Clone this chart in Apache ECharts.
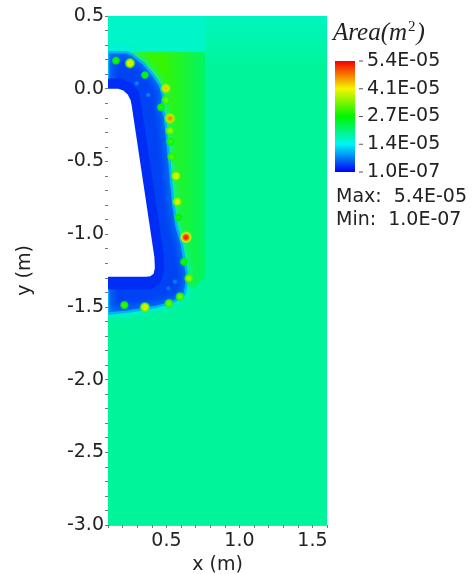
<!DOCTYPE html>
<html>
<head>
<meta charset="utf-8">
<script src="https://cdn.jsdelivr.net/npm/echarts@6/dist/echarts.min.js"></script>
<style>
  html, body { margin: 0; padding: 0; background: #fff; }
  #chart { width: 475px; height: 574px; }
</style>
</head>
<body>
<div id="chart"></div>
<script>
// colour range of the cell area field
const areaMin = 1.0e-7;
const areaMax = 5.4e-5;
const palette = ['#0000f5', '#00f5f5', '#00f500', '#f5f500', '#f50000'];

const xTickLabels = [0.5, 1.0, 1.5];
const yTickLabels = [0.5, 0.0, -0.5, -1.0, -1.5, -2.0, -2.5, -3.0];
const legendLabels = ['1.0E-07', '1.4E-05', '2.7E-05', '4.1E-05', '5.4E-05'];

// mesh zones (x, y in m)
const farField = [[0.1, 0.5], [1.6, 0.5], [1.6, -3.0], [0.1, -3.0]];
const topBand = [[0.1, 0.5], [0.765, 0.5], [0.765, 0.25], [0.1, 0.25]];
const topRight = [[0.765, 0.5], [1.6, 0.5], [1.6, 0.12], [0.765, 0.12]];
const wakeZone = [[0.25, 0.25], [0.765, 0.25], [0.765, -1.3], [0.68, -1.38], [0.58, -1.33], [0.5, -0.6], [0.4, 0.0]];
const coarseBand = [[0.1, 0.25], [0.23, 0.25], [0.27, 0.232], [0.342, 0.175], [0.41, 0.094], [0.456, 0.025],
  [0.479, -0.055], [0.468, -0.124], [0.49, -0.192], [0.502, -0.307], [0.513, -0.42], [0.525, -0.55],
  [0.536, -0.674], [0.547, -0.788], [0.57, -0.949], [0.605, -1.063], [0.627, -1.2], [0.645, -1.29],
  [0.627, -1.407], [0.593, -1.442], [0.525, -1.476], [0.433, -1.499], [0.342, -1.517], [0.228, -1.534],
  [0.1, -1.545]];
const fineBand = [[0.1, 0.07], [0.19, 0.07], [0.26, 0.04], [0.31, -0.02], [0.33, -0.12], [0.48, -1.13],
  [0.485, -1.25], [0.46, -1.33], [0.4, -1.38], [0.1, -1.38]];
const hull = [[0.1, 0.0], [0.17, 0.0], [0.205, -0.012], [0.235, -0.04], [0.255, -0.08], [0.263, -0.12],
  [0.418, -1.16], [0.421, -1.235], [0.412, -1.272], [0.39, -1.29], [0.36, -1.293], [0.1, -1.293]];

// zone areas (m^2); pairs are [start, end] of a gradient
const farFieldArea = 1.86e-5;
const topBandArea = 1.6e-5;
const topRightArea = [1.65e-5, 1.86e-5];
const wakeZoneArea = [3.0e-5, 2.15e-5];
const coarseBandArea = 3.8e-6;
const fineBandArea = 2.6e-6;

// isolated large cells [x, y, area]
const hotSpots = [
  [0.155, 0.193, 3.0e-5], [0.251, 0.175, 4.3e-5], [0.353, 0.094, 2.8e-5], [0.497, 0.003, 4.5e-5],
  [0.497, -0.078, 3.5e-5], [0.463, -0.128, 3.0e-5], [0.525, -0.204, 4.8e-5], [0.525, -0.289, 3.8e-5],
  [0.529, -0.364, 3.2e-5], [0.536, -0.468, 3.4e-5], [0.566, -0.6, 4.3e-5], [0.575, -0.777, 4.2e-5],
  [0.582, -0.885, 3.0e-5], [0.634, -1.022, 5.4e-5], [0.62, -1.19, 3.0e-5], [0.655, -1.304, 3.8e-5],
  [0.593, -1.43, 3.5e-5], [0.518, -1.476, 3.5e-5], [0.353, -1.503, 4.3e-5], [0.212, -1.488, 3.2e-5]
];
// lighter cells inside the refined band
const coolSpots = [
  [0.297, 0.037, 8e-6], [0.376, -0.043, 8e-6], [0.513, -1.373, 7e-6], [0.559, -1.327, 8e-6]
];

function colorOf(v) {
  const t = Math.max(0, Math.min(1, (v - areaMin) / (areaMax - areaMin)));
  return echarts.color.lerp(t, palette);
}

function fmtE(v) {
  const p = v.toExponential(1).toUpperCase().split('E');
  const e = parseInt(p[1], 10);
  return p[0] + 'E' + (e < 0 ? '-' : '+') + String(Math.abs(e)).padStart(2, '0');
}

const zones = [
  { pts: farField, area: farFieldArea },
  { pts: topBand, area: topBandArea },
  { pts: topRight, area: topRightArea, dir: 'y', span: [0.5, 0.15] },
  { pts: wakeZone, area: wakeZoneArea, dir: 'x', span: [0.47, 0.765] },
  { pts: coarseBand, area: coarseBandArea, glow: true },
  { pts: fineBand, area: fineBandArea },
  { pts: hull, area: null }
];

const font = 'DejaVu Sans';
const chart = echarts.init(document.getElementById('chart'));

function zoneItem(params, api) {
  const z = zones[params.dataIndex];
  const points = z.pts.map(p => api.coord(p));
  let fill;
  if (z.area === null) {
    fill = '#ffffff';
  } else if (z.dir) {
    const a = z.dir === 'x' ? api.coord([z.span[0], 0]) : api.coord([0.1, z.span[0]]);
    const b = z.dir === 'x' ? api.coord([z.span[1], 0]) : api.coord([0.1, z.span[1]]);
    fill = new echarts.graphic.LinearGradient(
      z.dir === 'x' ? a[0] : 0, z.dir === 'x' ? 0 : a[1],
      z.dir === 'x' ? b[0] : 0, z.dir === 'x' ? 0 : b[1],
      [{ offset: 0, color: colorOf(z.area[0]) }, { offset: 1, color: colorOf(z.area[1]) }], true);
  } else {
    fill = colorOf(z.area);
  }
  const style = { fill: fill };
  if (z.glow) {
    style.stroke = colorOf(1.0e-5);
    style.lineWidth = 2.5;
    style.shadowBlur = 8;
    style.shadowColor = colorOf(1.3e-5);
  }
  return { type: 'polygon', shape: { points: points }, style: style };
}

function spotItem(list, base, rMin, rGain) {
  return function (params, api) {
    const s = list[params.dataIndex];
    const c = api.coord([s[0], s[1]]);
    const r = rMin + rGain * Math.max(0, (s[2] - base) / (areaMax - base));
    return {
      type: 'circle',
      shape: { cx: c[0], cy: c[1], r: r },
      style: {
        fill: new echarts.graphic.RadialGradient(0.5, 0.5, 0.5, [
          { offset: 0, color: colorOf(s[2]) },
          { offset: 0.3, color: colorOf(s[2] * 0.93) },
          { offset: 0.65, color: colorOf((s[2] + base) / 2) },
          { offset: 1, color: echarts.color.modifyAlpha(colorOf(base), 0) }
        ])
      }
    };
  };
}

// colour bar with its own tick dashes
function barItem(params, api) {
  const top = legendLabels.length - 1;
  const a = api.coord([0, top]);
  const b = api.coord([1, 0]);
  const children = [{
    type: 'rect',
    shape: { x: a[0], y: a[1], width: b[0] - a[0], height: b[1] - a[1] },
    style: {
      fill: new echarts.graphic.LinearGradient(0, 0, 0, 1,
        palette.slice().reverse().map((c, i) => ({ offset: i / (palette.length - 1), color: c })))
    }
  }];
  legendLabels.forEach((l, i) => {
    const p = api.coord([1, i]);
    children.push({
      type: 'line',
      shape: { x1: p[0] + 4, y1: p[1], x2: p[0] + 8, y2: p[1] },
      style: { stroke: '#555', lineWidth: 1 }
    });
  });
  return { type: 'group', children: children };
}

const labelStyle = { color: '#222', fontSize: 19, fontFamily: font };

chart.setOption({
  animation: false,
  title: [
    {
      left: 333, top: 20, padding: 0,
      text: '{a|Area(m}{s|2}{a|)}',
      textStyle: {
        rich: {
          a: { fontFamily: 'Liberation Serif', fontStyle: 'italic', fontWeight: 'normal', fontSize: 25, color: '#222' },
          s: { fontFamily: 'Liberation Serif', fontWeight: 'normal', fontSize: 15, color: '#222', padding: [0, 1, 12, 1] }
        }
      }
    },
    {
      left: 336, top: 186, padding: 0,
      text: 'Max:  ' + fmtE(areaMax) + '\nMin:  ' + fmtE(areaMin),
      textStyle: { fontFamily: font, fontSize: 19, fontWeight: 'normal', lineHeight: 23, color: '#222' }
    }
  ],
  grid: [
    { left: 108, top: 16, width: 219, height: 509, outerBoundsMode: 'none' },
    { left: 335, top: 61, width: 20, height: 111, outerBoundsMode: 'none' }
  ],
  xAxis: [
    {
      gridIndex: 0, type: 'value', min: 0.1, max: 1.6, interval: 0.1,
      name: 'x (m)', nameLocation: 'middle', nameGap: 27,
      nameTextStyle: labelStyle,
      axisLine: { onZero: false, lineStyle: { color: '#aaa', width: 1 } },
      axisTick: { length: 3, lineStyle: { color: '#777' } },
      splitLine: { show: false },
      axisLabel: Object.assign({
        margin: 7,
        formatter: v => xTickLabels.some(t => Math.abs(t - v) < 1e-6) ? v.toFixed(1) : ''
      }, labelStyle)
    },
    { gridIndex: 1, type: 'value', min: 0, max: 1, show: false, axisLine: { onZero: false } }
  ],
  yAxis: [
    {
      gridIndex: 0, type: 'value', min: -3.0, max: 0.5, interval: 0.1,
      name: 'y (m)', nameLocation: 'middle', nameGap: 73, nameRotate: 90,
      nameTextStyle: labelStyle,
      axisLine: { onZero: false, lineStyle: { color: '#aaa', width: 1 } },
      axisTick: { length: 3, lineStyle: { color: '#777' } },
      splitLine: { show: false },
      axisLabel: Object.assign({
        margin: 4,
        formatter: v => yTickLabels.some(t => Math.abs(t - v) < 1e-6) ? Math.abs(v) < 1e-9 ? '0.0' : v.toFixed(1) : ''
      }, labelStyle)
    },
    {
      gridIndex: 1, type: 'value', min: 0, max: 4, interval: 1, position: 'right',
      axisLine: { show: false, onZero: false },
      axisTick: { show: false },
      splitLine: { show: false },
      axisLabel: Object.assign({ margin: 12, formatter: v => legendLabels[v] }, labelStyle)
    }
  ],
  series: [
    {
      type: 'custom', xAxisIndex: 0, yAxisIndex: 0, clip: true,
      data: zones.map(z => z.pts[0]),
      renderItem: zoneItem
    },
    {
      type: 'custom', xAxisIndex: 0, yAxisIndex: 0, clip: true,
      data: coolSpots.map(s => [s[0], s[1]]),
      renderItem: spotItem(coolSpots, coarseBandArea, 3, 0)
    },
    {
      type: 'custom', xAxisIndex: 0, yAxisIndex: 0, clip: true,
      data: hotSpots.map(s => [s[0], s[1]]),
      renderItem: spotItem(hotSpots, 2.4e-5, 4, 3)
    },
    {
      type: 'custom', xAxisIndex: 1, yAxisIndex: 1, clip: false,
      data: [[0.5, 2]],
      renderItem: barItem
    }
  ]
});
</script>
</body>
</html>
